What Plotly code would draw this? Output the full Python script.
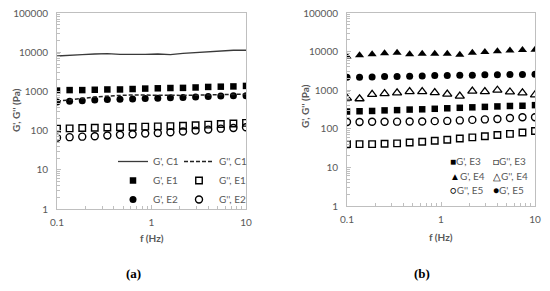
import plotly.graph_objects as go

# ---------------- data ----------------
freq = [0.1, 0.136, 0.185, 0.251, 0.341, 0.464, 0.631, 0.858,
        1.166, 1.585, 2.154, 2.929, 3.981, 5.412, 7.356, 10.0]

# panel (a)
gp_C1 = [8000, 8200, 8700, 9000, 9200, 8800, 8700, 8800,
         9000, 8700, 9300, 9800, 10400, 10800, 11200, 11200]
gpp_C1 = [560, 600, 660, 720, 760, 790, 810, 800,
          790, 780, 790, 800, 820, 830, 840, 850]
gp_E1 = [1050, 1080, 1080, 1100, 1120, 1120, 1150, 1180,
         1200, 1220, 1230, 1260, 1300, 1320, 1340, 1380]
gpp_E1 = [112, 114, 116, 118, 120, 122, 124, 126,
          128, 130, 133, 137, 142, 148, 152, 157]
gp_E2 = [540, 560, 580, 600, 620, 630, 640, 660,
         670, 690, 700, 720, 740, 760, 770, 780]
gpp_E2 = [66, 68, 70, 72, 75, 78, 81, 84,
          87, 91, 95, 100, 106, 112, 117, 122]

# panel (b)
gp_E3 = [280, 285, 290, 300, 305, 315, 320, 330,
         340, 350, 360, 370, 380, 390, 395, 410]
gpp_E3 = [40, 40, 40, 41, 42, 44, 46, 49,
          52, 56, 60, 64, 69, 74, 80, 88]
gp_E4 = [7500, 8000, 8500, 9000, 9300, 8500, 8800, 8800,
         8800, 8300, 9300, 9700, 10200, 10700, 11000, 11200]
gpp_E4 = [620, 600, 780, 820, 850, 920, 920, 870,
          790, 700, 950, 920, 1000, 900, 850, 760]
gpp_E5 = [150, 150, 152, 152, 153, 155, 155, 158,
          160, 165, 170, 175, 180, 190, 200, 200]
gp_E5 = [2150, 2150, 2200, 2250, 2250, 2300, 2350, 2400,
         2400, 2450, 2450, 2500, 2500, 2550, 2550, 2600]

y_tickvals = [1, 10, 100, 1000, 10000, 100000]
y_ticktext = ["1", "10", "100", "1000", "10000", "100000"]
x_tickvals = [0.1, 1, 10]
x_ticktext = ["0.1", "1", "10"]

legend_b = [
    ("■", "G', E3", "□", "G'', E3"),
    ("▲", "G', E4", "△", "G'', E4"),
    ("○", "G'', E5", "●", "G', E5"),
]

# ---------------- style ----------------
# the page body has an 8px default margin, so the figure is drawn 8px smaller
OFF = 8
W, H = 550 - OFF, 291 - OFF
GRAY = "#595959"
AX = "#bfbfbf"
FONT = "Lato"

def px_x(x):
    return (x - OFF) / W

def px_y(y):
    return (H - (y - OFF)) / H

fig = go.Figure()

ms = 6.5
# panel (a) traces
fig.add_trace(go.Scatter(x=freq, y=gp_C1, mode="lines", name="G', C1",
                         line=dict(color="#3a3a3a", width=1.3),
                         xaxis="x", yaxis="y", legend="legend"))
fig.add_trace(go.Scatter(x=freq, y=gp_E1, mode="markers", name="G', E1",
                         marker=dict(symbol="square", size=ms, color="black"),
                         xaxis="x", yaxis="y", legend="legend"))
fig.add_trace(go.Scatter(x=freq, y=gp_E2, mode="markers", name="G', E2",
                         marker=dict(symbol="circle", size=ms + 0.5, color="black"),
                         xaxis="x", yaxis="y", legend="legend"))
fig.add_trace(go.Scatter(x=freq, y=gpp_C1, mode="lines", name="G'', C1",
                         line=dict(color="#222222", width=1.5, dash="4px,2px"),
                         xaxis="x", yaxis="y", legend="legend2"))
fig.add_trace(go.Scatter(x=freq, y=gpp_E1, mode="markers", name="G'', E1",
                         marker=dict(symbol="square-open", size=ms, color="black",
                                     line=dict(width=1.4)),
                         xaxis="x", yaxis="y", legend="legend2"))
fig.add_trace(go.Scatter(x=freq, y=gpp_E2, mode="markers", name="G'', E2",
                         marker=dict(symbol="circle-open", size=ms + 0.5, color="black",
                                     line=dict(width=1.4)),
                         xaxis="x", yaxis="y", legend="legend2"))

# panel (b) traces
fig.add_trace(go.Scatter(x=freq, y=gp_E3, mode="markers", name="G', E3",
                         marker=dict(symbol="square", size=ms, color="black"),
                         xaxis="x2", yaxis="y2", showlegend=False))
fig.add_trace(go.Scatter(x=freq, y=gpp_E3, mode="markers", name="G'', E3",
                         marker=dict(symbol="square-open", size=ms, color="black",
                                     line=dict(width=1.4)),
                         xaxis="x2", yaxis="y2", showlegend=False))
fig.add_trace(go.Scatter(x=freq, y=gp_E4, mode="markers", name="G', E4",
                         marker=dict(symbol="triangle-up", size=ms + 1.5, color="black"),
                         xaxis="x2", yaxis="y2", showlegend=False))
fig.add_trace(go.Scatter(x=freq, y=gpp_E4, mode="markers", name="G'', E4",
                         marker=dict(symbol="triangle-up-open", size=ms + 1.5, color="black",
                                     line=dict(width=1.3)),
                         xaxis="x2", yaxis="y2", showlegend=False))
fig.add_trace(go.Scatter(x=freq, y=gpp_E5, mode="markers", name="G'', E5",
                         marker=dict(symbol="circle-open", size=ms + 0.5, color="black",
                                     line=dict(width=1.4)),
                         xaxis="x2", yaxis="y2", showlegend=False))
fig.add_trace(go.Scatter(x=freq, y=gp_E5, mode="markers", name="G', E5",
                         marker=dict(symbol="circle", size=ms + 0.5, color="black"),
                         xaxis="x2", yaxis="y2", showlegend=False))

def xax(domain, anchor):
    return dict(type="log", range=[-1, 1], domain=domain, anchor=anchor,
                automargin=False, ticklabeloverflow="allow",
                showline=True, linecolor=AX, linewidth=1, mirror=True,
                showgrid=False, zeroline=False,
                tickvals=x_tickvals, ticktext=x_ticktext,
                ticks="inside", ticklen=4, tickcolor=AX,
                minor=dict(ticks="inside", ticklen=3, tickcolor=AX, dtick="D1",
                           showgrid=False),
                tickfont=dict(family=FONT, size=10, color=GRAY),
                ticklabelstandoff=4)

def yax(domain, anchor):
    return dict(type="log", range=[0, 5], domain=domain, anchor=anchor,
                automargin=False, ticklabeloverflow="allow",
                showline=True, linecolor=AX, linewidth=1, mirror=True,
                showgrid=False, zeroline=False,
                tickvals=y_tickvals, ticktext=y_ticktext,
                ticks="inside", ticklen=4, tickcolor=AX,
                minor=dict(ticks="inside", ticklen=3, tickcolor=AX, dtick="D1",
                           showgrid=False),
                tickfont=dict(family=FONT, size=10, color=GRAY),
                ticklabelstandoff=6)

def ann(cx, cy, text, font, xanchor="center", **kw):
    return dict(x=px_x(cx), y=px_y(cy), xref="paper", yref="paper",
                xanchor=xanchor, yanchor="middle", text=text,
                showarrow=False, font=font, **kw)

tfont = dict(family=FONT, size=10, color=GRAY)
annotations = []
# axis titles
for cx, cy in [(152, 238), (441, 237)]:
    annotations.append(ann(cx, cy, "<b>f (Hz)</b>", tfont))
for cx, cy in [(16, 110), (305, 106)]:
    annotations.append(ann(cx, cy, "<b>G', G'' (Pa)</b>", tfont, textangle=-90))
# panel labels
for lab, cx in [("(a)", 133), ("(b)", 422)]:
    annotations.append(ann(cx, 273, "<b>" + lab + "</b>",
                           dict(family="Liberation Serif", size=13, color="black")))
# panel (b) legend as text
rows_y = [161, 176, 190]
for (s1, t1, s2, t2), ry in zip(legend_b, rows_y):
    annotations.append(ann(448, ry, '<span style="color:black">' + s1 + '</span>' + t1,
                           tfont, xanchor="left"))
    annotations.append(ann(491, ry, '<span style="color:black">' + s2 + '</span>' + t2,
                           tfont, xanchor="left"))

leg_common = dict(bgcolor="rgba(0,0,0,0)", borderwidth=0, traceorder="normal",
                  font=dict(family=FONT, size=10, color=GRAY),
                  yanchor="top", xanchor="left", itemwidth=30, tracegroupgap=0)

fig.update_layout(
    width=W, height=H, margin=dict(l=0, r=0, t=0, b=0, autoexpand=False),
    paper_bgcolor="white", plot_bgcolor="white",
    xaxis=xax([px_x(57), px_x(246)], "y"),
    yaxis=yax([px_y(209), px_y(13)], "x"),
    xaxis2=xax([px_x(347), px_x(535)], "y2"),
    yaxis2=yax([px_y(206), px_y(13)], "x2"),
    legend=dict(x=px_x(113), y=px_y(147), **leg_common),
    legend2=dict(x=px_x(179), y=px_y(147), **leg_common),
    annotations=annotations,
    showlegend=True,
)

fig.write_html("out.html")
